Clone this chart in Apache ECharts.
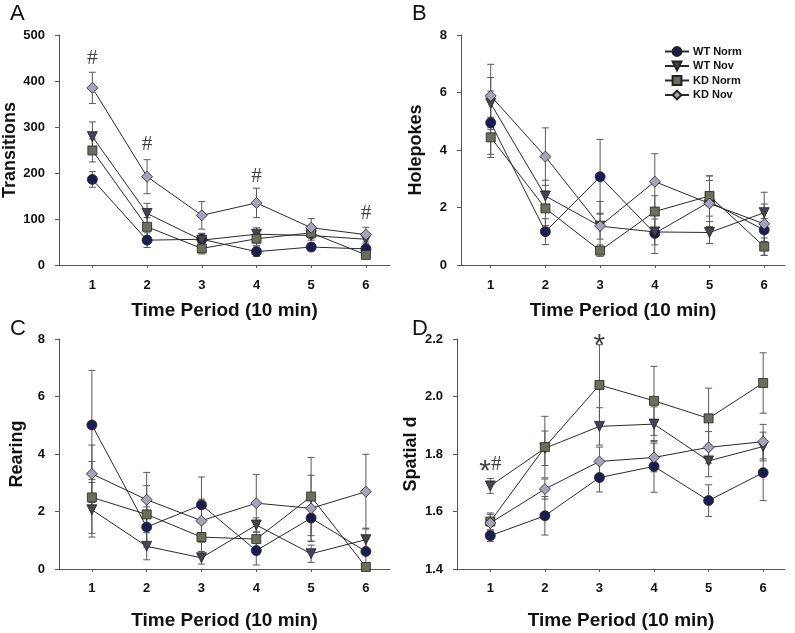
<!DOCTYPE html>
<html>
<head>
<meta charset="utf-8">
<script src="https://cdn.jsdelivr.net/npm/echarts@6/dist/echarts.min.js"></script>
<style>html,body{margin:0;padding:0;background:#fff;}#c{width:795px;height:633px;}</style>
</head>
<body>
<div id="c"></div>
<script>
// ---------- data ----------
const periods = [1, 2, 3, 4, 5, 6];
const groupNames = ['WT Norm', 'WT Nov', 'KD Norm', 'KD Nov'];

// Panel A: Transitions
const transWTNorm = [186, 54, 56, 29, 39, 35];
const transWTNov  = [279, 112, 54, 67, 64, 56];
const transKDNorm = [249, 83, 36, 57, 70, 22];
const transKDNov  = [385, 192, 108, 135, 81, 66];
const transErrWTNorm = [17, 16, 12, 10, 8, 8];
const transErrWTNov  = [32, 22, 15, 14, 10, 10];
const transErrKDNorm = [25, 20, 12, 15, 12, 8];
const transErrKDNov  = [34, 37, 30, 32, 20, 16];
const transTicks = [0, 100, 200, 300, 400, 500];
const transMarks = [[1, 449, '#'], [2, 261, '#'], [4, 192, '#'], [6, 112, '#']];

// Panel B: Holepokes
const holeWTNorm = [4.95, 1.16, 3.07, 1.10, 2.20, 1.22];
const holeWTNov  = [5.62, 2.40, 1.35, 1.15, 1.13, 1.82];
const holeKDNorm = [4.44, 1.97, 0.50, 1.86, 2.40, 0.64];
const holeKDNov  = [5.88, 3.77, 1.36, 2.90, 2.14, 1.43];
const holeErrWTNorm = [1.1, 0.45, 1.3, 0.7, 0.9, 0.4];
const holeErrWTNov  = [0.9, 0.55, 0.45, 0.45, 0.38, 0.3];
const holeErrKDNorm = [0.7, 0.6, 0.2, 0.55, 0.7, 0.3];
const holeErrKDNov  = [1.1, 1.0, 0.85, 0.97, 0.8, 1.1];
const holeTicks = [0, 2, 4, 6, 8];

// Panel C: Rearing
const rearWTNorm = [5.01, 1.46, 2.23, 0.64, 1.77, 0.61];
const rearWTNov  = [2.06, 0.79, 0.39, 1.53, 0.53, 1.02];
const rearKDNorm = [2.49, 1.90, 1.11, 1.04, 2.52, 0.07];
const rearKDNov  = [3.31, 2.41, 1.68, 2.29, 2.11, 2.69];
const rearErrWTNorm = [1.9, 0.7, 0.97, 0.5, 0.8, 0.5];
const rearErrWTNov  = [0.95, 0.47, 0.22, 0.25, 0.3, 0.4];
const rearErrKDNorm = [1.25, 1.0, 0.5, 0.5, 1.36, 0.05];
const rearErrKDNov  = [1.0, 0.95, 0.75, 1.0, 1.15, 1.3];
const rearTicks = [0, 2, 4, 6, 8];

// Panel D: Spatial d
const spatWTNorm = [1.516, 1.585, 1.718, 1.757, 1.638, 1.735];
const spatWTNov  = [1.689, 1.820, 1.896, 1.904, 1.776, 1.826];
const spatKDNorm = [1.565, 1.824, 2.040, 1.985, 1.924, 2.047];
const spatKDNov  = [1.560, 1.678, 1.774, 1.788, 1.823, 1.843];
const spatErrWTNorm = [0.02, 0.067, 0.05, 0.09, 0.055, 0.097];
const spatErrWTNov  = [0.026, 0.06, 0.065, 0.06, 0.055, 0.05];
const spatErrKDNorm = [0.03, 0.107, 0.14, 0.12, 0.105, 0.105];
const spatErrKDNov  = [0.03, 0.035, 0.05, 0.05, 0.055, 0.06];
const spatTicks = [1.4, 1.6, 1.8, 2.0, 2.2];
const spatMarks = [[3, 2.2, '*'], [1, 1.762, '*#']];

const xTitle = 'Time Period (10 min)';

// ---------- styling ----------
const FONT = '"Liberation Sans", Arial, sans-serif';
const colors = ['#1c1c52', '#45454f', '#6c6e5c', '#a4a4ba'];
const symbols = ['circle', 'triangle', 'rect', 'diamond'];
const symbolSizes = [10, 10, 9, 11];
const symbolRot = [0, 180, 0, 0];

const panels = [
  { letter: 'A', yName: 'Transitions', means: [transWTNorm, transWTNov, transKDNorm, transKDNov],
    errs: [transErrWTNorm, transErrWTNov, transErrKDNorm, transErrKDNov], ticks: transTicks,
    marks: transMarks, grid: { left: 59, top: 35, width: 331, height: 230 }, xr: [0.39, 6.44],
    yGap: 38, xGap: 36, xMargin: 14, dec: 0 },
  { letter: 'B', yName: 'Holepokes', means: [holeWTNorm, holeWTNov, holeKDNorm, holeKDNov],
    errs: [holeErrWTNorm, holeErrWTNov, holeErrKDNorm, holeErrKDNov], ticks: holeTicks,
    marks: [], grid: { left: 461, top: 35, width: 324, height: 230 }, xr: [0.457, 6.38],
    yGap: 36, xGap: 36, xMargin: 14, dec: 0 },
  { letter: 'C', yName: 'Rearing', means: [rearWTNorm, rearWTNov, rearKDNorm, rearKDNov],
    errs: [rearErrWTNorm, rearErrWTNov, rearErrKDNorm, rearErrKDNov], ticks: rearTicks,
    marks: [], grid: { left: 59, top: 339, width: 331, height: 230 }, xr: [0.4, 6.44],
    yGap: 33, xGap: 42, xMargin: 13, dec: 0 },
  { letter: 'D', yName: 'Spatial d', means: [spatWTNorm, spatWTNov, spatKDNorm, spatKDNov],
    errs: [spatErrWTNorm, spatErrWTNov, spatErrKDNorm, spatErrKDNov], ticks: spatTicks,
    marks: spatMarks, grid: { left: 457, top: 339, width: 328, height: 230 }, xr: [0.39, 6.4],
    yGap: 37, xGap: 42, xMargin: 13, dec: 1 }
];

const letterPos = [[10, 3], [412, 3], [10, 318], [412, 318]];

const grids = [], xAxes = [], yAxes = [], series = [], graphics = [];

function renderErr(params, api) {
  const x = api.value(0), y = api.value(1), e = api.value(2);
  const t = api.coord([x, y + e]);
  const b = api.coord([x, y - e]);
  const w = 3.5;
  const st = { stroke: '#5a5a5a', lineWidth: 1 };
  return {
    type: 'group',
    children: [
      { type: 'line', shape: { x1: t[0], y1: t[1], x2: b[0], y2: b[1] }, style: st },
      { type: 'line', shape: { x1: t[0] - w, y1: t[1], x2: t[0] + w, y2: t[1] }, style: st },
      { type: 'line', shape: { x1: b[0] - w, y1: b[1], x2: b[0] + w, y2: b[1] }, style: st }
    ]
  };
}

panels.forEach((p, i) => {
  grids.push(p.grid);
  const tickMin = p.ticks[0], tickMax = p.ticks[p.ticks.length - 1];
  xAxes.push({
    gridIndex: i, type: 'value', min: p.xr[0], max: p.xr[1],
    name: xTitle, nameLocation: 'middle', nameGap: p.xGap,
    nameTextStyle: { fontFamily: FONT, fontWeight: 'bold', fontSize: 19, color: '#111' },
    axisLine: { show: true, onZero: false, lineStyle: { color: '#555', width: 1 } },
    axisTick: { show: true, length: 3, customValues: periods, lineStyle: { color: '#555' } },
    axisLabel: { customValues: periods, margin: p.xMargin, fontFamily: FONT, fontWeight: 'bold', fontSize: 13, color: '#111' },
    splitLine: { show: false }
  });
  yAxes.push({
    gridIndex: i, type: 'value', min: tickMin, max: tickMax,
    name: p.yName, nameLocation: 'middle', nameGap: p.yGap, nameRotate: 90,
    nameTextStyle: { fontFamily: FONT, fontWeight: 'bold', fontSize: 18, color: '#111' },
    axisLine: { show: true, lineStyle: { color: '#555', width: 1 } },
    axisTick: { show: true, length: 4, customValues: p.ticks, lineStyle: { color: '#555' } },
    axisLabel: { customValues: p.ticks, margin: 14, fontFamily: FONT, fontWeight: 'bold', fontSize: 13, color: '#111',
      formatter: v => Number(v).toFixed(p.dec) },
    splitLine: { show: false }
  });
  p.means.forEach((m, g) => {
    series.push({
      type: 'custom', name: 'err' + i + g, xAxisIndex: i, yAxisIndex: i, z: 1,
      renderItem: renderErr, silent: true,
      data: periods.map((x, k) => [x, m[k], p.errs[g][k]])
    });
  });
  p.means.forEach((m, g) => {
    series.push({
      type: 'line', name: groupNames[g], xAxisIndex: i, yAxisIndex: i, z: 3 + g,
      data: periods.map((x, k) => [x, m[k]]),
      symbol: symbols[g], symbolSize: symbolSizes[g], symbolRotate: symbolRot[g], showAllSymbol: true,
      lineStyle: { color: '#2a2a2a', width: 1 },
      itemStyle: { color: colors[g], borderColor: '#222', borderWidth: 0.8 },
      emphasis: { disabled: true }, animation: false
    });
  });
  if (p.marks.length) {
    series.push({
      type: 'scatter', name: 'marks' + i, xAxisIndex: i, yAxisIndex: i, z: 10,
      symbolSize: 1, itemStyle: { color: 'rgba(0,0,0,0)' }, silent: true,
      data: p.marks.map(a => ({ value: [a[0], a[1]], name: a[2] })),
      label: {
        show: true, position: 'inside',
        formatter: d => {
          const s = d.name;
          return s.split('').map(c => c === '*' ? '{s|*}' : '{h|#}').join('');
        },
        rich: {
          s: { fontFamily: FONT, fontSize: 30, color: '#111', padding: [14, 0, 0, 0] },
          h: { fontFamily: '"Liberation Serif", "DejaVu Serif", serif', fontSize: 21, color: '#111' }
        }
      }
    });
  }
  graphics.push({
    type: 'text', left: letterPos[i][0], top: letterPos[i][1],
    style: { text: p.letter, font: '22px ' + FONT, fill: '#111' }
  });
});

const chart = echarts.init(document.getElementById('c'), null, { renderer: 'canvas' });
chart.setOption({
  animation: false,
  backgroundColor: '#fff',
  grid: grids,
  xAxis: xAxes,
  yAxis: yAxes,
  series: series,
  graphic: graphics,
  legend: {
    data: groupNames, orient: 'vertical', left: 664, top: 46, padding: 0,
    itemWidth: 24, itemHeight: 11, itemGap: 3.5, selectedMode: false,
    textStyle: { fontFamily: FONT, fontWeight: 'bold', fontSize: 11, color: '#111', padding: [0, 0, 0, -1] }
  }
});
</script>
</body>
</html>
